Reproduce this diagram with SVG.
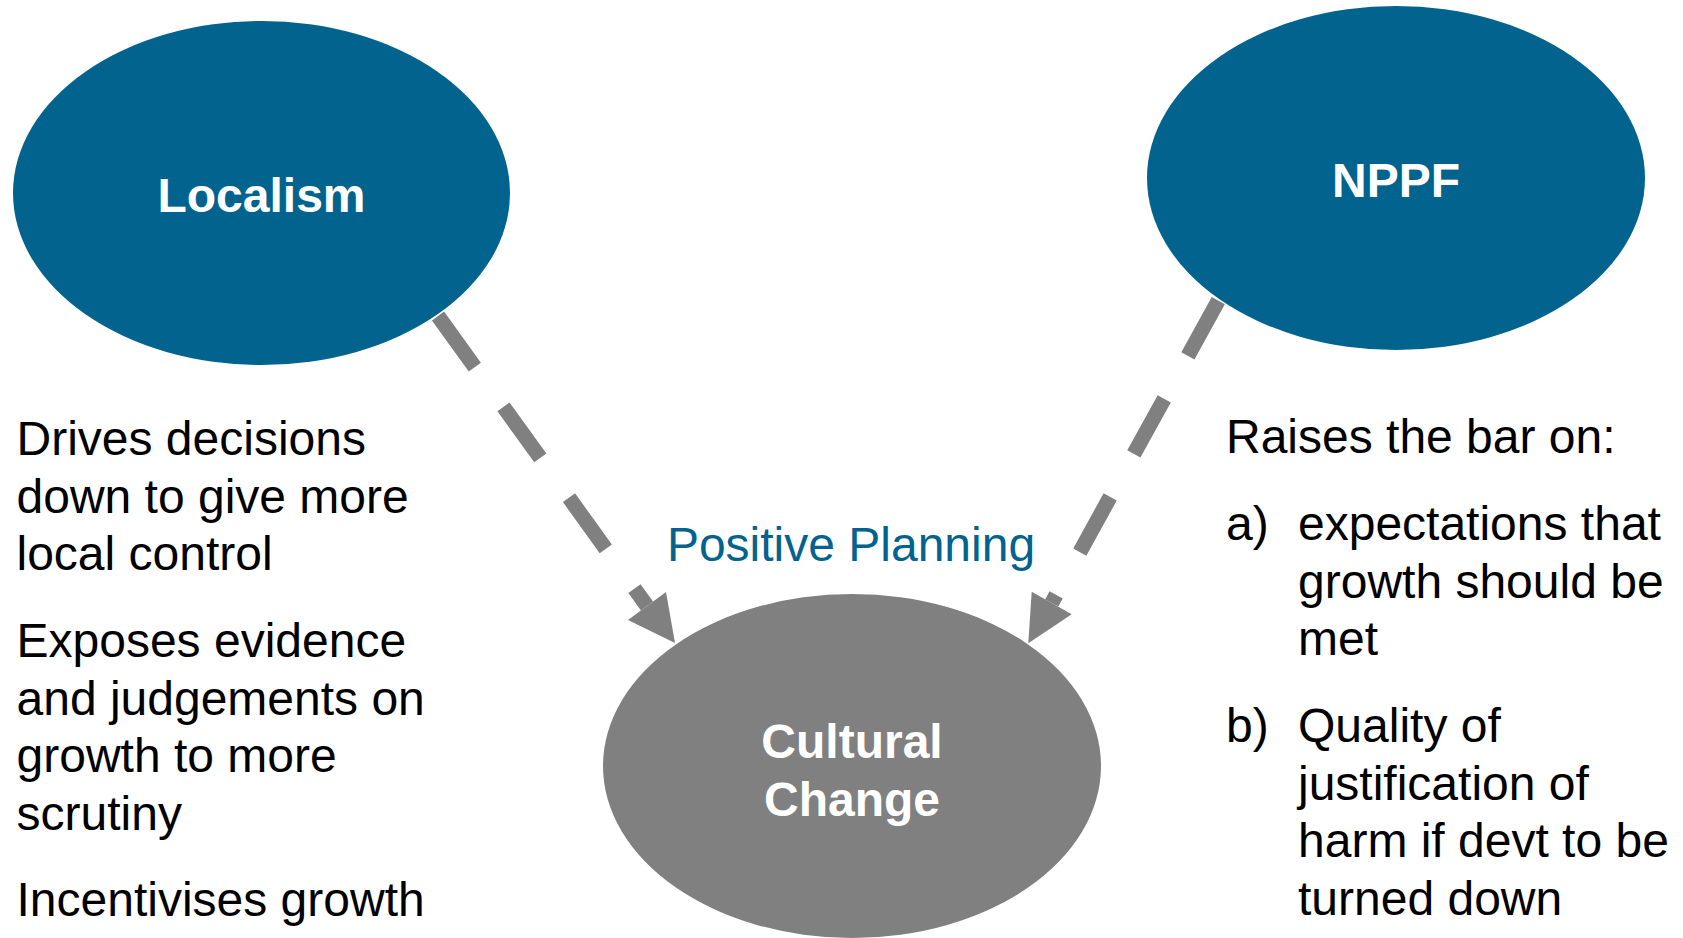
<svg xmlns="http://www.w3.org/2000/svg" width="1683" height="938" viewBox="0 0 1683 938">
<style>
.blue{fill:#02638F}
.grey{fill:#808080}
.lbl{font-family:"Liberation Sans",Arial,sans-serif;font-weight:bold;font-size:48px;fill:#ffffff;text-anchor:middle}
.body{font-family:"Liberation Sans",Arial,sans-serif;font-size:48px;fill:#000000}
.pos{font-family:"Liberation Sans",Arial,sans-serif;font-size:48px;fill:#02638F;text-anchor:middle}
.dash{fill:none;stroke:#808080;stroke-width:15;stroke-dasharray:63 49}
</style>
<rect width="1683" height="938" fill="#ffffff"/>
<g id="connectors">
<path class="dash" d="M438,316 L647,606"/>
<polygon class="grey" points="675,643 666,592 628,620"/>
<path class="dash" d="M1218.3,300.7 L1051.7,603"/>
<polygon class="grey" points="1028.3,643.3 1031.7,591.7 1071.7,614.3"/>
</g>
<g id="localism">
<ellipse class="blue" cx="261.5" cy="193" rx="248.5" ry="172"/>
<text class="lbl" x="261.5" y="212">Localism</text>
</g>
<g id="nppf">
<ellipse class="blue" cx="1396" cy="178" rx="249" ry="172"/>
<text class="lbl" x="1396" y="196.5">NPPF</text>
</g>
<g id="cultural-change">
<ellipse class="grey" cx="852" cy="766" rx="249" ry="172"/>
<text class="lbl" x="852" y="758">Cultural</text>
<text class="lbl" x="852" y="815.6">Change</text>
</g>
<g id="positive-planning">
<text class="pos" x="851" y="560.6">Positive Planning</text>
</g>
<g id="localism-notes">
<text class="body" x="16.5" y="455">Drives decisions</text>
<text class="body" x="16.5" y="512.6">down to give more</text>
<text class="body" x="16.5" y="570.2">local control</text>
<text class="body" x="16.5" y="657">Exposes evidence</text>
<text class="body" x="16.5" y="714.6">and judgements on</text>
<text class="body" x="16.5" y="772.2">growth to more</text>
<text class="body" x="16.5" y="829.8">scrutiny</text>
<text class="body" x="16.5" y="916">Incentivises growth</text>
</g>
<g id="nppf-notes">
<text class="body" x="1226" y="453">Raises the bar on:</text>
<text class="body" x="1226" y="540">a)</text>
<text class="body" x="1298" y="540">expectations that</text>
<text class="body" x="1298" y="597.6">growth should be</text>
<text class="body" x="1298" y="655.2">met</text>
<text class="body" x="1226" y="742">b)</text>
<text class="body" x="1298" y="742">Quality of</text>
<text class="body" x="1298" y="799.6">justification of</text>
<text class="body" x="1298" y="857.2">harm if devt to be</text>
<text class="body" x="1298" y="914.8">turned down</text>
</g>
</svg>
